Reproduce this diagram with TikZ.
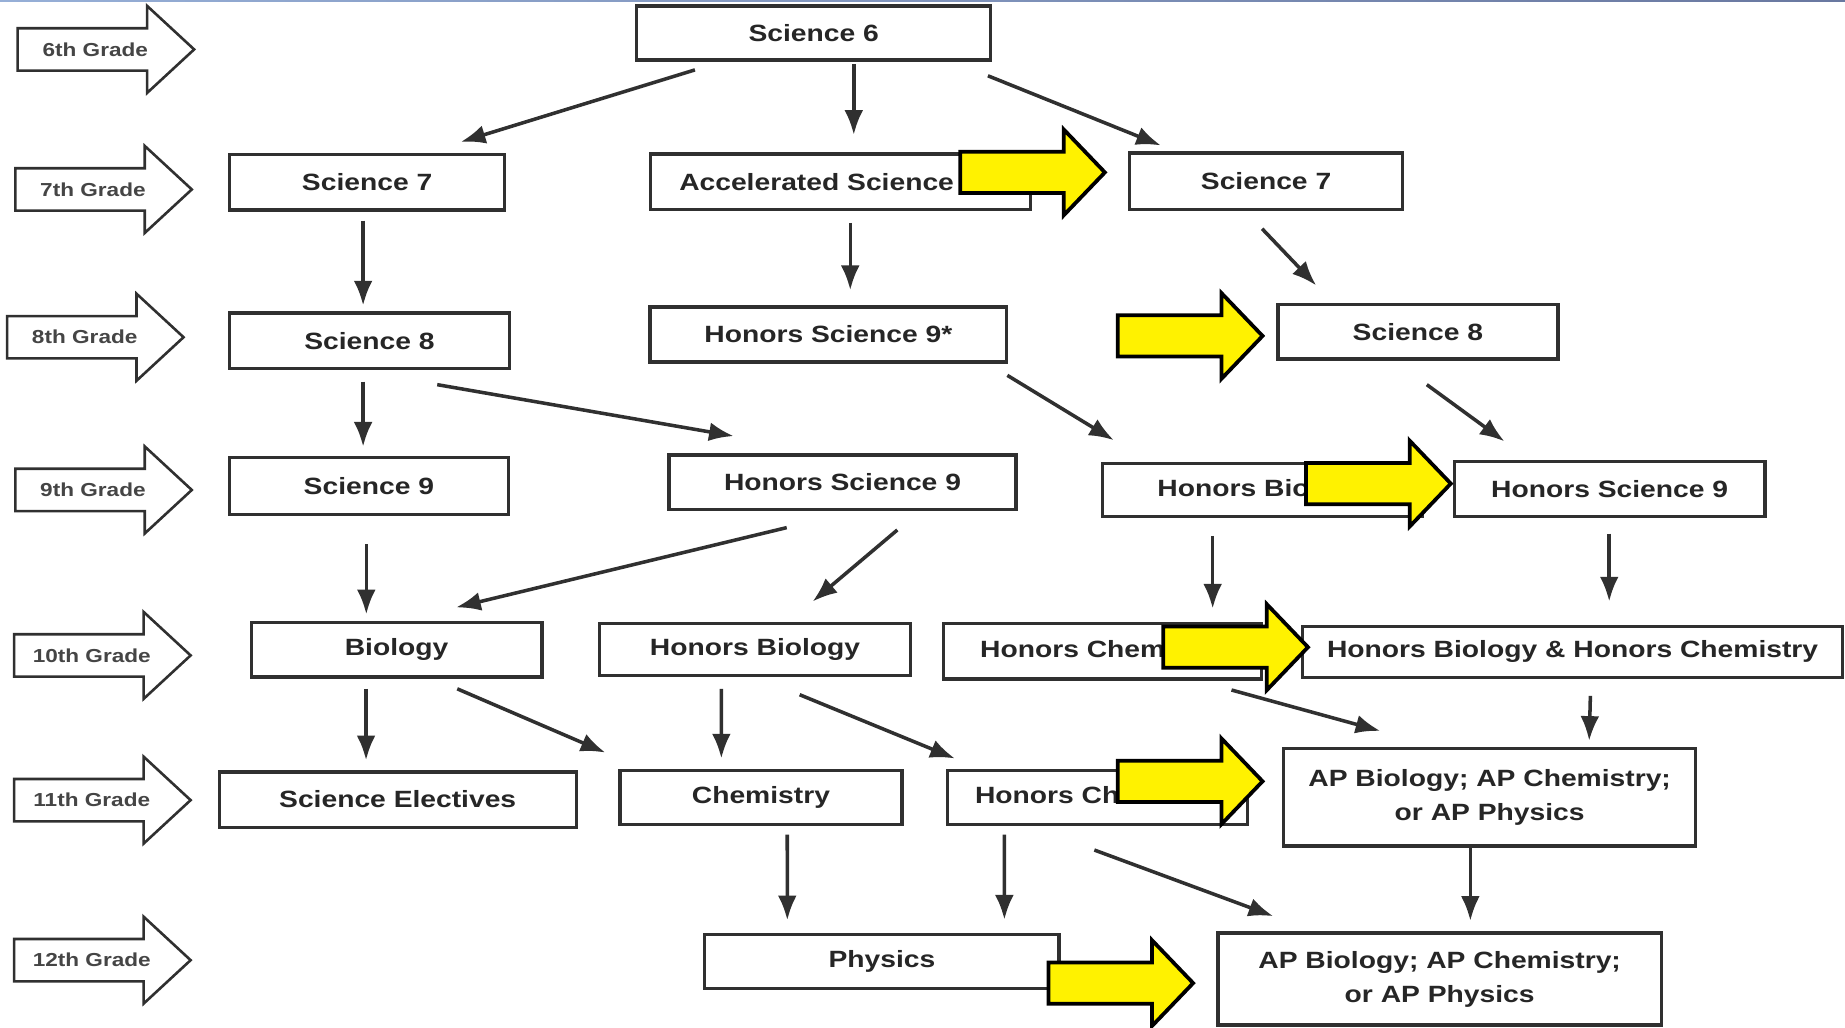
\documentclass[tikz,border=0pt]{standalone}
\usepackage{fontspec}
\setmainfont{Liberation Sans}[FakeStretch=1.2]
\usetikzlibrary{arrows.meta}
\definecolor{ink}{HTML}{262626}
\definecolor{lineclr}{HTML}{303030}
\definecolor{gradeclr}{HTML}{454545}
\definecolor{topblueL}{RGB}{150,175,215}
\definecolor{topblueR}{RGB}{105,120,160}
% grade block arrow: #1 name, #2 left x, #3 centre y, #4 text
\newcommand{\gradearw}[4]{%
  \draw[gradeshape] (#2,#3-18) -- ++(110,0) -- ++(0,-19) -- ++(40,37) -- ++(-40,37) -- ++(0,-19) -- ++(-110,0) -- cycle;
  \node[gradetxt] (#1) at (#2+66,#3) {#4};}
% yellow block arrow: #1 left x, #2 centre y
\newcommand{\yarw}[2]{%
  \draw[yshape] (#1,#2-17.5) -- ++(88,0) -- ++(0,-19) -- ++(35,36.5) -- ++(-35,36.5) -- ++(0,-19) -- ++(-88,0) -- cycle;}
\begin{document}
\begin{tikzpicture}[x=0.5pt,y=-0.5pt,
  box/.style 2 args={draw=lineclr, line width=1.4pt, fill=white, minimum width=#1*0.5pt, minimum height=#2*0.5pt, inner sep=0pt, font=\fontsize{10pt}{14.5pt}\selectfont\bfseries, text=ink},
  conn/.style={draw=lineclr, line width=1.5pt, -{Latex[length=10.5pt,width=8pt]}},
  gradeshape/.style={draw=lineclr, line width=1.1pt, fill=white, line join=miter},
  gradetxt/.style={font=\fontsize{8pt}{9pt}\selectfont\bfseries, text=gradeclr, inner sep=0pt},
  yshape/.style={draw=black, line width=1.6pt, fill=yellow, line join=miter}]
\useasboundingbox (0,0) rectangle (1568,873);
\fill[white] (0,0) rectangle (1568,873);
\shade[left color=topblueL, right color=topblueR] (0,0) rectangle (1568,1.6);

% grade arrows
\gradearw{g6}{15}{42}{6th Grade}
\gradearw{g7}{13}{161}{7th Grade}
\gradearw{g8}{6}{286.6}{8th Grade}
\gradearw{g9}{13}{416.4}{9th Grade}
\gradearw{g10}{12}{557}{10th Grade}
\gradearw{g11}{12}{680}{11th Grade}
\gradearw{g12}{12}{816}{12th Grade}

% boxes
\node[box={301}{46}] (sci6) at (691.5,28) {Science 6};
\node[box={234}{47}] (sci7L) at (312,155) {Science 7};
\node[box={323}{47}] (accel) at (714.5,154.5) {Accelerated Science\kern20.5pt};
\node[box={232}{48}] (sci7R) at (1076,154) {Science 7};
\node[box={238}{47}] (sci8L) at (314,289.5) {Science 8};
\node[box={303}{46.6}] (hs9star) at (704,284.3) {Honors Science 9*};
\node[box={238}{46}] (sci8R) at (1205,282) {Science 8};
\node[box={237}{48}] (sci9) at (313.5,413) {Science 9};
\node[box={295}{46}] (hs9mid) at (716,409.7) {Honors Science 9};
\node[box={272}{45}] (honbio9) at (1073,416.5) {Honors Bio\phantom{logy}};
\node[box={264}{47}] (hs9R) at (1368,415.5) {Honors Science 9};
\node[box={247}{46.5}] (biology) at (337,552) {Biology};
\node[box={264}{44}] (honbio10) at (641.7,551.8) {Honors Biology};
\node[box={270}{47}] (honchem10) at (937,553.5) {Honors Chem\phantom{istry}};
\node[box={459}{43}] (hbhc) at (1336.5,554) {Honors Biology \& Honors Chemistry};
\node[box={303.5}{47}] (electives) at (338,679.5) {Science Electives};
\node[box={239.5}{46}] (chemistry) at (646.7,678) {Chemistry};
\node[box={254.5}{46}] (honchem11) at (932.7,678) {Honors Ch\phantom{emistry}};
\node[box={350}{83}, align=center] (ap11) at (1266,677.5) {AP Biology; AP Chemistry;\\or AP Physics};
\node[box={301}{46}] (physics) at (749.5,817) {Physics};
\node[box={377}{78}, align=center] (ap12) at (1223.5,832) {AP Biology; AP Chemistry;\\or AP Physics};

% connectors
\draw[conn] ([shift={(51,7)}]sci6.south west) -- ([shift={(198,-9.5)}]sci7L.north west);
\draw[conn] ([shift={(186,2)}]sci6.south west) -- ([shift={(174,-15)}]accel.north west);
\draw[conn] ([shift={(300,12)}]sci6.south west) -- ([shift={(28,-5)}]sci7R.north west);
\draw[conn] ([shift={(115,7.5)}]sci7L.south west) -- ([shift={(115,-5)}]sci8L.north west);
\draw[conn] ([shift={(171,10)}]accel.south west) -- ([shift={(171.5,-13)}]hs9star.north west);
\draw[conn] ([shift={(114,15)}]sci7R.south west) -- ([shift={(34,-15)}]sci8R.north west);
\draw[conn] ([shift={(115,10)}]sci8L.south west) -- ([shift={(115,-8)}]sci9.north west);
\draw[conn] ([shift={(178,12.5)}]sci8L.south west) -- ([shift={(56.5,-14.7)}]hs9mid.north west);
\draw[conn] ([shift={(305,10)}]hs9star.south west) -- ([shift={(11,-18.5)}]honbio9.north west);
\draw[conn] ([shift={(128,20.5)}]sci8R.south west) -- ([shift={(44,-15.5)}]hs9R.north west);
\draw[conn] ([shift={(117.7,24)}]sci9.south west) -- ([shift={(99.2,-5.25)}]biology.north west);
\draw[conn] ([shift={(101.5,14.3)}]hs9mid.south west) -- ([shift={(175.5,-11.15)}]biology.north west);
\draw[conn] ([shift={(195.5,16.3)}]hs9mid.south west) -- ([shift={(182.3,-17.2)}]honbio10.north west);
\draw[conn] ([shift={(95,15)}]honbio9.south west) -- ([shift={(230,-11.4)}]honchem10.north west);
\draw[conn] ([shift={(133,13)}]hs9R.south west) -- ([shift={(262,-19.9)}]hbhc.north west);
\draw[conn] ([shift={(99,8.75)}]biology.south west) -- ([shift={(126.25,-8.5)}]electives.north west);
\draw[conn] ([shift={(176.5,8.75)}]biology.south west) -- ([shift={(-11,-14)}]chemistry.north west);
\draw[conn] ([shift={(104.8,10.2)}]honbio10.south west) -- ([shift={(87.5,-9)}]chemistry.north west);
\draw[conn] ([shift={(171.3,15.2)}]honbio10.south west) -- ([shift={(7.5,-9)}]honchem11.north west);
\draw[conn] ([shift={(246,8)}]honchem10.south west) -- ([shift={(83.5,-13.4)}]ap11.north west);
\draw[conn] ([shift={(246,14.5)}]hbhc.south west) -- ([shift={(261,-5)}]ap11.north west);
\draw[conn] ([shift={(143.5,7)}]chemistry.south west) -- ([shift={(71.5,-10.5)}]physics.north west);
\draw[conn] ([shift={(49.5,7)}]honchem11.south west) -- ([shift={(256,-11)}]physics.north west);
\draw[conn] ([shift={(126,20)}]honchem11.south west) -- ([shift={(48.5,-13)}]ap12.north west);
\draw[conn] ([shift={(160,0)}]ap11.south west) -- ([shift={(216,-9)}]ap12.north west);

% yellow arrows
\yarw{816}{146.5}
\yarw{950}{285.5}
\yarw{1110}{411}
\yarw{988.6}{550}
\yarw{950}{664}
\yarw{891}{835.5}
\end{tikzpicture}
\end{document}
